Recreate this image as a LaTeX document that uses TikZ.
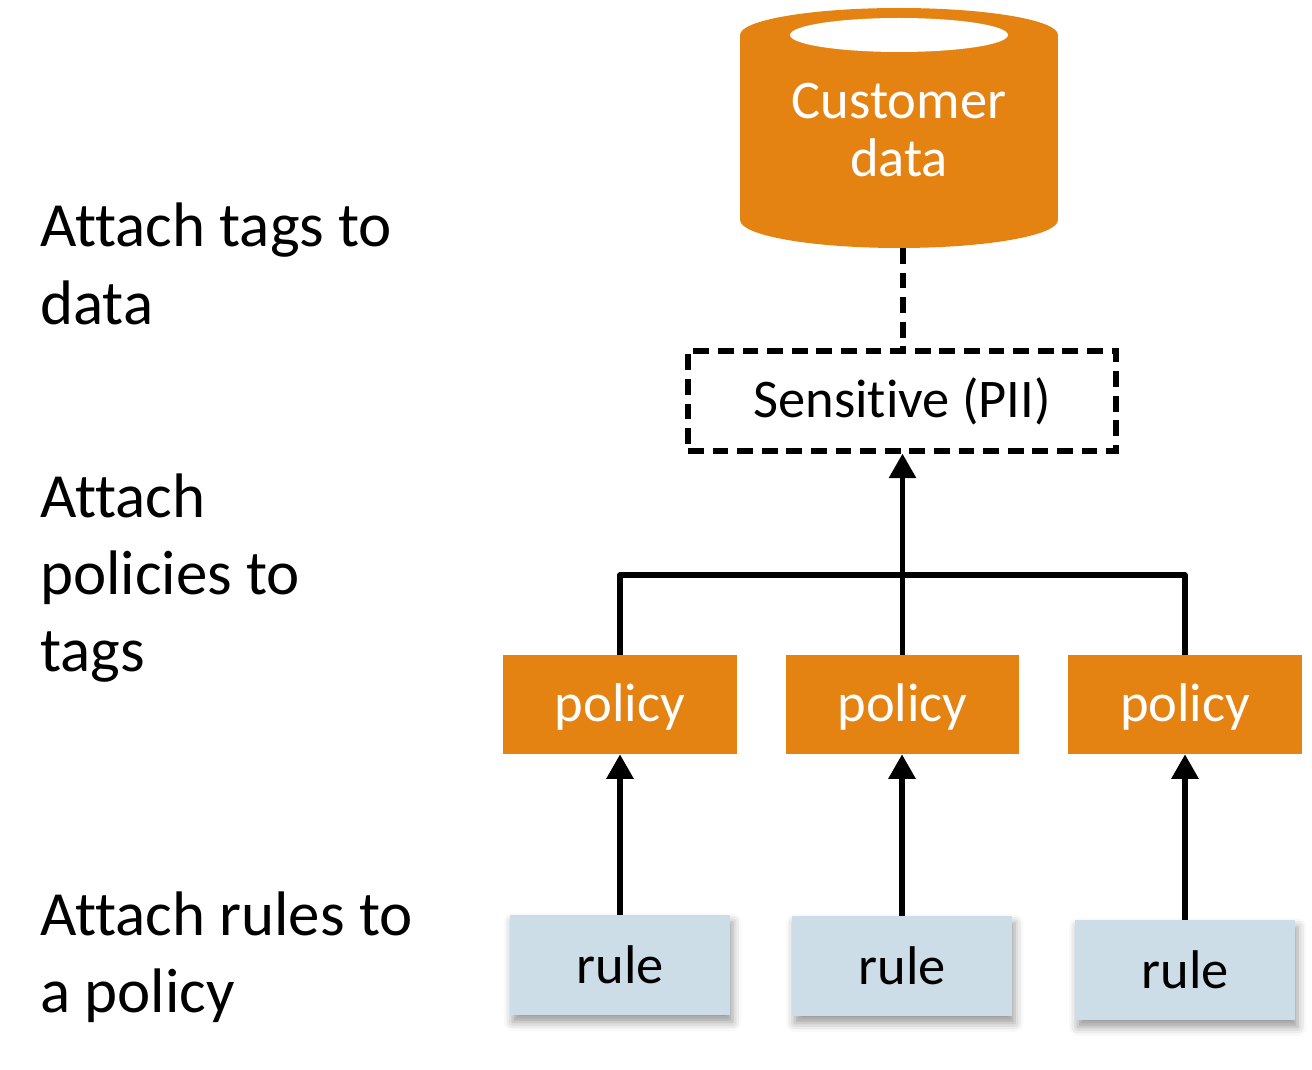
\documentclass[tikz,border=0pt]{standalone}
\usepackage{fontspec}
\setmainfont{Carlito}[Ligatures=CommonOff]
\usepackage{tikz}
\usetikzlibrary{arrows.meta, calc, shadows, shadows.blur}

\definecolor{dataOrange}{RGB}{228, 131, 18}
\definecolor{ruleBlue}{RGB}{204, 221, 232}

\tikzset{
  stepnote/.style={anchor=west, align=left, inner sep=0pt, font=\fontsize{35.8}{44}\selectfont},
  policybox/.style={fill=dataOrange, text=white, minimum width=4.68cm, minimum height=1.98cm, inner sep=0pt,
    text height=21.7pt, text depth=2pt, font=\fontsize{31}{36}\selectfont},
  rulebox/.style={fill=ruleBlue, minimum width=4.4cm, minimum height=2cm, inner sep=0pt, font=\fontsize{31}{36}\selectfont,
    blur shadow={shadow xshift=1.5pt, shadow yshift=-4pt, shadow blur radius=5pt, shadow opacity=40}},
  tagbox/.style={draw, line width=3pt, dash pattern=on 9pt off 5pt, minimum width=8.56cm, minimum height=2cm, inner sep=0pt, font=\fontsize{31}{36}\selectfont},
  link/.style={line width=3pt},
  uplink/.style={line width=3pt, -{Triangle[width=15pt, length=14pt]}}
}

\begin{document}
\begin{tikzpicture}[x=0.02cm, y=-0.02cm, style={line cap=butt}]
  \useasboundingbox (0,0) rectangle (1312,1070);

  % the data store
  \fill[dataOrange] (899,220) ellipse [x radius=3.18cm, y radius=0.56cm];
  \fill[dataOrange] (740,35) rectangle (1058,220);
  \fill[dataOrange] (899,35) ellipse [x radius=3.18cm, y radius=0.54cm];
  \fill[white] (899,35) ellipse [x radius=2.18cm, y radius=0.34cm];
  \node[text=white, align=center, inner sep=0pt, font=\fontsize{31}{33}\selectfont] (db) at (899,130) {Customer\\data};
  \coordinate (dbbot) at (903,248);

  % notes on the left
  \node[stepnote] (note1) at (40,264) {Attach tags to\\data};
  \node[stepnote] (note2) at (40,578) {Attach\\policies to\\tags};
  \node[stepnote] (note3) at (40,957) {Attach rules to\\a policy};

  % tag, policies, rules
  \node[tagbox] (tag) at (902,401) {Sensitive (PII)};

  \node[policybox] (pol1) at (620,704.5) {policy};
  \node[policybox] (pol2) at (902.5,704.5) {policy};
  \node[policybox] (pol3) at (1185,704.5) {policy};

  \node[rulebox] (rule1) at (620,965) {rule};
  \node[rulebox] (rule2) at (902,966) {rule};
  \node[rulebox] (rule3) at (1185,970) {rule};

  % connectors
  \draw[link, dash pattern=on 9pt off 5pt] (dbbot) -- (dbbot |- tag.north);
  \coordinate (join) at (903,575);
  \draw[link, line join=round] (pol1.north) |- (join) -| (pol3.north);
  \draw[uplink] (pol2.north) -- (pol2.north |- tag.south);
  \draw[uplink] (rule1.north) -- (rule1.north |- pol1.south);
  \draw[uplink] (rule2.north) -- (rule2.north |- pol2.south);
  \draw[uplink] (rule3.north) -- (rule3.north |- pol3.south);

\end{tikzpicture}
\end{document}
